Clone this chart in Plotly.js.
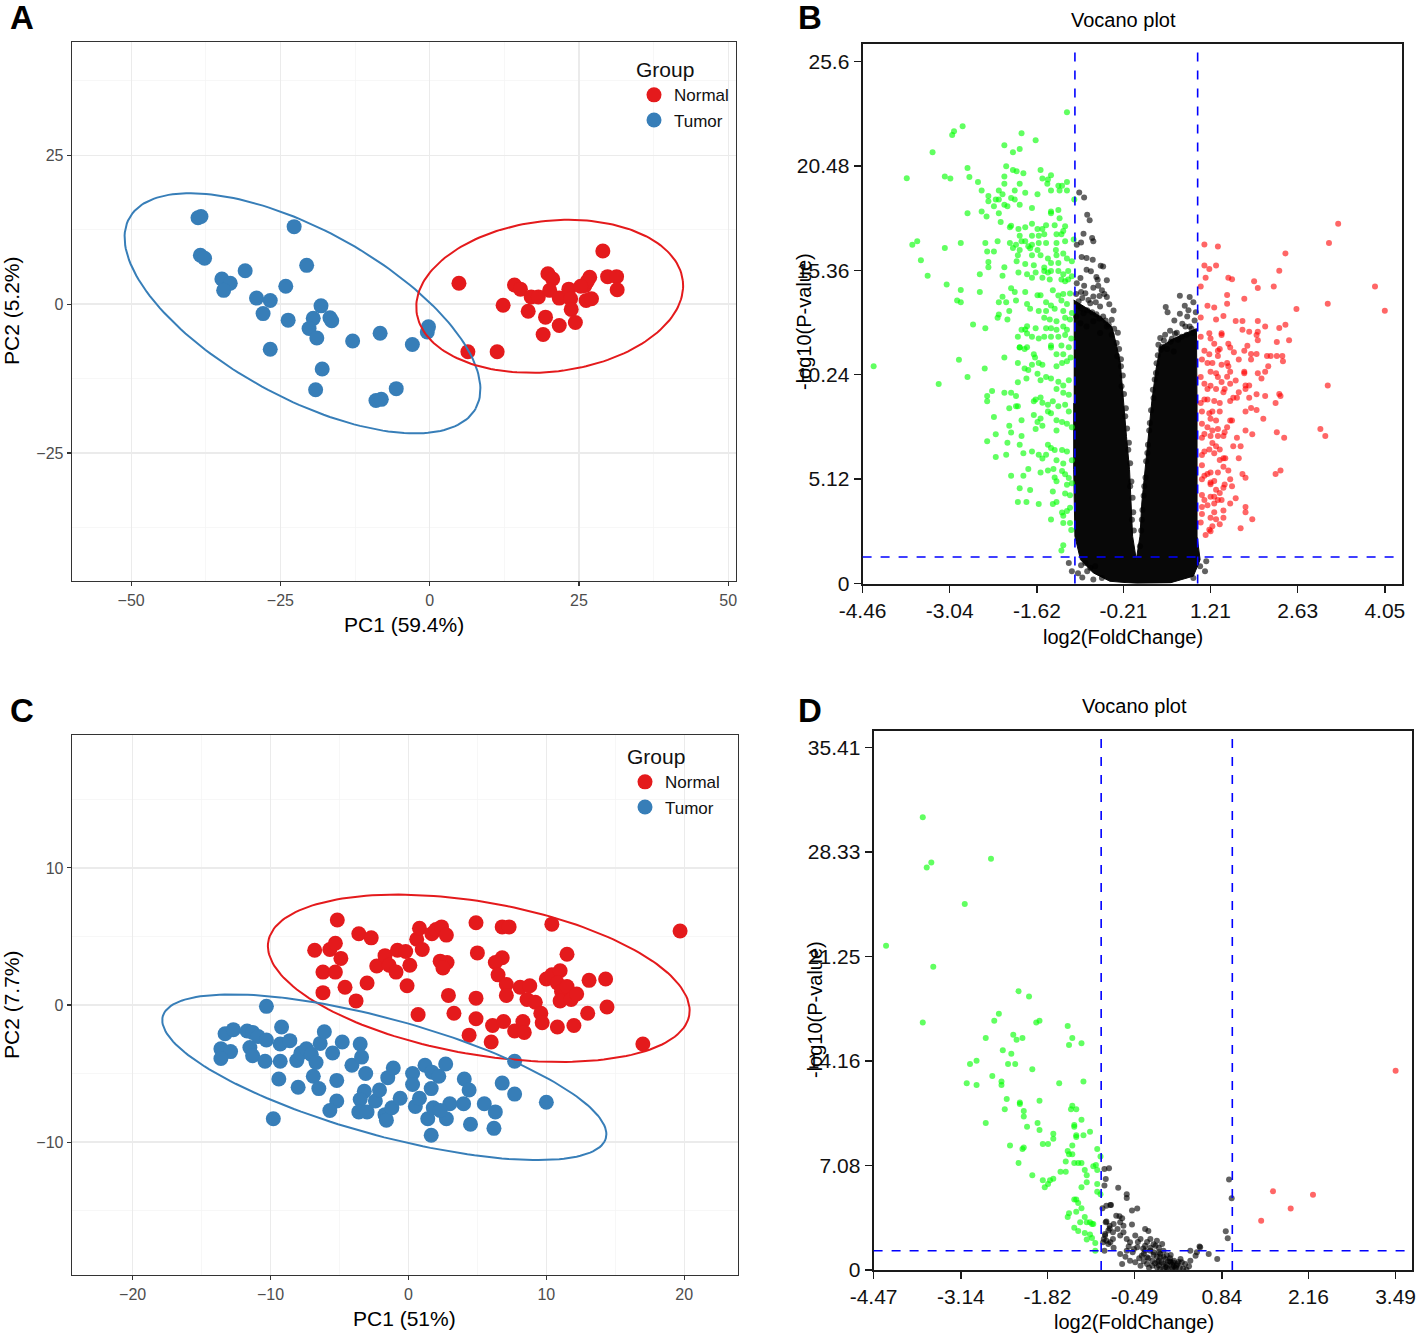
<!DOCTYPE html>
<html>
<head>
<meta charset="utf-8">
<script src="https://cdn.plot.ly/plotly-3.0.1.min.js"></script>
<style>html,body{margin:0;padding:0;background:#fff;}#chart{width:1418px;height:1338px;}</style>
</head>
<body>
<div id="chart"></div>
<script>
// ---------- Panel A: PCA (PC1 59.4%, PC2 5.2%) ----------
const aNormal = [[4.9,3.5],[6.4,-8.0],[11.3,-8.0],[12.3,-0.2],[14.2,3.2],[15.2,2.5],[17.0,1.2],[18.2,1.2],[16.5,-1.2],[19.8,5.1],[20.6,4.2],[20.1,2.3],[19.4,-2.2],[19.0,-5.1],[21.7,-3.6],[21.7,1.0],[23.3,2.5],[23.6,0.9],[23.7,-0.9],[24.4,-3.1],[26.0,3.1],[26.8,4.5],[26.2,0.6],[27.1,0.9],[29.0,8.9],[29.8,4.6],[31.3,4.6],[31.4,2.4],[26.4,3.8],[25.3,3.0]];
const aTumor = [[-38.8,14.5],[-38.3,14.7],[-38.4,8.2],[-37.7,7.7],[-34.8,4.2],[-33.4,3.5],[-34.5,2.3],[-30.9,5.6],[-29.0,1.0],[-26.7,0.6],[-27.9,-1.6],[-24.1,3.0],[-23.7,-2.7],[-26.7,-7.6],[-22.7,13.0],[-20.6,6.5],[-18.2,-0.3],[-19.5,-2.4],[-20.2,-4.1],[-18.9,-5.7],[-16.7,-2.3],[-16.4,-2.8],[-18.0,-10.9],[-19.1,-14.4],[-12.9,-6.2],[-8.3,-4.9],[-2.9,-6.8],[-0.2,-3.8],[-0.4,-4.7],[-5.6,-14.2],[-9.0,-16.2],[-8.1,-16.0]];
const aEllNormal = {cx:20.1, cy:1.3, a:22.45, b:12.66, angle:6.7};
const aEllTumor = {cx:-21.3, cy:-1.55, a:33.12, b:14.06, angle:-28.83};
const aXTicks = [-50,-25,0,25,50];
const aYTicks = [-25,0,25];

// ---------- Panel C: PCA (PC1 51%, PC2 7.7%) ----------
const cNormal = [[-5.16,6.2],[-3.6,5.2],[-2.7,4.9],[-6.8,4.0],[-5.7,4.05],[-5.3,4.5],[-4.9,3.4],[-6.2,2.4],[-5.3,2.4],[-4.6,1.3],[-6.2,0.9],[-3.8,0.3],[-3.0,1.6],[-2.3,2.85],[-1.7,3.6],[-1.4,2.9],[-0.9,2.4],[-0.8,4.0],[-0.2,3.9],[0.1,2.9],[-0.1,1.4],[0.6,4.8],[0.8,5.6],[1.0,4.05],[1.7,5.2],[2.0,5.5],[2.4,5.7],[2.75,5.1],[2.3,3.2],[2.8,3.1],[2.5,2.7],[2.9,0.7],[3.3,-0.6],[0.7,-0.7],[4.9,6.0],[5.0,3.8],[4.9,0.5],[4.9,-1.0],[4.4,-2.2],[6.0,-2.7],[6.1,-1.5],[6.8,5.7],[7.3,5.7],[6.8,3.45],[6.3,3.1],[6.5,2.2],[7.1,1.5],[7.1,0.7],[6.9,-1.2],[7.7,-1.9],[8.3,-1.2],[8.4,-2.0],[8.1,1.3],[8.8,1.4],[8.6,0.4],[9.2,0.2],[9.6,-0.6],[9.7,-1.3],[10.0,1.9],[10.4,5.9],[10.8,-1.6],[10.4,2.2],[11.0,2.5],[10.8,1.6],[11.1,1.0],[11.0,0.3],[11.5,3.7],[11.5,1.35],[11.8,0.4],[12.2,0.8],[12.0,-1.5],[13.0,-0.6],[13.1,1.8],[14.3,1.9],[14.4,-0.15],[17.0,-2.85],[19.7,5.4]];
const cTumor = [[-10.3,-0.1],[-13.3,-2.1],[-12.7,-1.8],[-13.6,-3.2],[-12.9,-3.4],[-13.6,-3.9],[-11.7,-1.9],[-11.3,-2.0],[-10.9,-2.3],[-10.3,-2.55],[-11.5,-3.1],[-11.3,-3.7],[-10.4,-4.1],[-9.2,-1.6],[-9.3,-2.85],[-8.6,-2.6],[-9.3,-4.1],[-9.4,-5.4],[-9.8,-8.3],[-8.0,-6.0],[-8.1,-4.05],[-7.8,-3.5],[-7.4,-3.2],[-7.05,-3.6],[-6.9,-5.2],[-6.7,-4.2],[-6.5,-6.1],[-6.4,-2.8],[-6.1,-1.95],[-5.5,-3.5],[-5.2,-5.5],[-5.2,-7.0],[-5.7,-7.7],[-4.8,-2.7],[-4.1,-4.4],[-3.5,-2.85],[-3.4,-3.8],[-3.1,-5.0],[-3.2,-6.3],[-3.5,-6.9],[-3.6,-7.8],[-3.0,-7.8],[-2.4,-7.0],[-2.1,-6.2],[-1.7,-8.0],[-1.6,-8.4],[-1.2,-7.5],[-1.5,-5.3],[-1.1,-4.6],[-0.6,-6.8],[0.3,-5.0],[0.3,-5.8],[0.5,-7.4],[0.8,-6.8],[1.2,-4.4],[1.4,-8.3],[1.65,-9.5],[1.65,-6.1],[1.8,-7.5],[1.7,-4.9],[2.2,-5.2],[2.7,-4.3],[2.75,-8.3],[3.0,-7.2],[2.3,-7.7],[4.0,-7.2],[4.05,-5.4],[4.4,-6.2],[4.5,-8.7],[5.5,-7.2],[6.2,-9.0],[6.3,-7.8],[6.8,-5.7],[7.7,-6.5],[7.7,-4.1],[10.0,-7.1]];
const cEllNormal = {cx:5.1, cy:1.95, a:15.5, b:5.56, angle:-10.05};
const cEllTumor = {cx:-1.75, cy:-5.27, a:16.67, b:4.24, angle:-15.5};
const cXTicks = [-20,-10,0,10,20];
const cYTicks = [-10,0,10];

// ---------- Panel B: volcano ----------
const bDown = [[-1.13,23.11],[-2.83,22.42],[-2.97,22.18],[-3.00,22.0],[-1.87,22.08],[-1.64,21.74],[-2.15,21.49],[-1.90,21.31],[-2.01,21.15],[-3.32,21.15],[-2.75,20.38],[-2.12,20.46],[-2.01,20.28],[-1.95,20.22],[-1.84,20.12],[-1.56,20.28],[-1.39,20.02],[-3.74,19.87],[-3.12,19.96],[-3.03,19.86],[-2.72,19.94],[-2.58,19.69],[-2.15,19.96],[-1.44,19.81],[-1.53,19.86],[-1.45,19.61],[-1.90,19.61],[-2.15,19.61],[-1.13,19.69],[-1.27,19.51],[-1.21,19.51],[-2.52,19.27],[-2.24,19.27],[-1.98,19.27],[-1.81,19.17],[-1.61,19.09],[-1.39,19.27],[-1.25,19.27],[-1.13,19.27],[-2.41,19.01],[-2.18,19.09],[-2.24,18.83],[-2.29,18.83],[-2.04,18.91],[-1.98,18.83],[-2.41,18.75],[-2.32,18.50],[-2.15,18.57],[-2.10,18.50],[-1.90,18.57],[-1.70,18.42],[-1.01,18.83],[-2.75,18.16],[-2.52,18.24],[-2.44,18.0],[-2.24,18.16],[-1.39,18.24],[-1.27,18.32],[-1.39,18.16],[-1.25,17.91],[-2.21,17.73],[-2.06,17.47],[-2.04,17.55],[-1.92,17.39],[-1.81,17.47],[-1.70,17.65],[-1.61,17.39],[-1.53,17.39],[-1.47,17.57],[-1.33,17.57],[-1.16,17.52],[-1.19,17.29],[-1.22,17.13],[-1.30,17.13],[-1.90,17.05],[-1.70,17.05],[-1.59,17.05],[-1.50,17.13],[-3.65,16.62],[-3.57,16.79],[-3.12,16.46],[-2.86,16.70],[-2.46,16.70],[-2.26,16.79],[-2.06,16.70],[-1.96,16.62],[-1.87,16.79],[-1.81,16.79],[-1.76,16.54],[-1.70,16.62],[-1.59,16.70],[-1.47,16.70],[-1.30,16.70],[-1.16,16.79],[-1.02,16.87],[-2.01,16.46],[-1.90,16.36],[-1.73,16.44],[-1.61,16.36],[-1.31,16.36],[-1.19,16.18],[-2.43,16.28],[-2.32,16.28],[-1.93,16.10],[-1.70,16.10],[-1.56,16.10],[-1.44,15.94],[-1.30,16.10],[-1.13,15.94],[-1.05,15.81],[-3.51,15.85],[-2.41,15.77],[-1.95,15.81],[-1.81,15.67],[-1.67,15.61],[-1.50,15.50],[-1.39,15.72],[-1.27,15.72],[-2.41,15.51],[-2.15,15.51],[-1.92,15.25],[-1.78,15.17],[-1.64,15.25],[-1.50,15.33],[-1.44,15.25],[-1.39,15.33],[-1.27,15.33],[-1.19,15.17],[-1.11,15.33],[-1.05,15.07],[-3.40,15.09],[-2.55,15.17],[-2.18,15.09],[-1.70,15.0],[-1.53,15.0],[-1.41,14.91],[-1.22,14.91],[-1.11,14.91],[-1.16,14.82],[-3.09,14.66],[-2.04,14.48],[-1.98,14.30],[-1.81,14.30],[-1.61,14.14],[-1.56,14.14],[-1.36,14.38],[-1.27,14.12],[-1.19,14.20],[-1.08,14.22],[-2.86,14.40],[-2.55,14.30],[-2.18,14.06],[-2.12,13.80],[-1.96,13.88],[-1.78,13.71],[-2.24,13.80],[-1.47,13.80],[-1.39,13.63],[-1.22,13.88],[-1.13,13.71],[-2.92,13.88],[-2.86,13.80],[-1.73,13.47],[-1.59,13.37],[-1.47,13.37],[-1.33,13.47],[-1.19,13.37],[-1.05,13.27],[-2.07,13.37],[-2.24,13.19],[-2.26,13.03],[-2.10,12.95],[-1.50,13.03],[-1.41,12.95],[-1.30,12.86],[-1.16,13.03],[-1.08,12.95],[-2.66,12.70],[-2.46,12.52],[-1.87,12.44],[-1.78,12.62],[-1.81,12.46],[-1.64,12.52],[-1.47,12.52],[-1.39,12.52],[-1.30,12.44],[-1.19,12.60],[-1.13,12.44],[-1.93,12.10],[-1.78,12.26],[-1.70,12.10],[-1.59,12.01],[-1.50,12.10],[-1.39,12.10],[-1.27,12.10],[-1.16,12.19],[-1.06,12.01],[-1.90,11.59],[-1.78,11.59],[-1.39,11.67],[-1.22,11.67],[-1.10,11.59],
[-4.28,10.65],[-2.89,10.98],[-2.15,11.08],[-2.47,10.55],[-2.75,10.13],[-3.22,9.79],[-1.93,9.87],[-1.79,10.05],[-1.70,10.73],[-1.93,10.82],[-1.82,10.55],[-1.76,10.47],[-1.67,11.24],[-1.65,11.08],[-1.90,11.58],[-1.82,11.50],[-1.59,10.82],[-1.53,10.73],[-1.61,10.29],[-1.56,9.97],[-1.47,10.13],[-1.39,10.05],[-1.30,10.65],[-1.21,10.82],[-1.13,10.90],[-1.07,11.08],[-1.19,11.24],[-1.30,11.24],[-1.39,11.58],[-1.27,9.89],[-1.19,9.71],[-1.10,9.97],[-1.30,9.54],[-1.19,9.36],[-1.10,9.26],[-2.35,9.44],[-2.43,9.20],[-2.43,8.94],[-2.15,9.36],[-2.04,9.36],[-1.96,9.20],[-2.07,8.59],[-1.96,8.69],[-1.93,8.69],[-1.67,8.94],[-1.64,9.02],[-1.56,9.12],[-1.53,8.86],[-1.44,8.77],[-1.36,8.94],[-1.27,8.69],[-1.16,8.77],[-1.10,8.43],[-2.32,8.17],[-1.87,8.01],[-1.67,8.27],[-1.61,7.92],[-1.64,7.58],[-1.56,8.09],[-1.53,7.74],[-1.44,8.43],[-1.39,8.35],[-1.30,8.01],[-1.30,7.50],[-1.21,7.92],[-1.13,7.84],[-1.05,7.66],[-2.07,7.74],[-2.04,7.40],[-2.29,7.32],[-2.43,6.98],[-2.10,6.90],[-1.90,6.81],[-1.87,7.24],[-1.70,6.47],[-1.59,6.31],[-1.84,6.39],[-2.12,6.31],[-2.29,6.21],[-1.44,6.81],[-1.39,6.65],[-1.33,6.55],[-1.21,6.55],[-1.13,6.47],[-1.53,6.13],[-1.47,6.31],[-1.30,6.05],[-1.19,5.88],[-1.05,6.05],[-1.76,5.62],[-1.44,5.54],[-1.56,5.44],[-1.35,5.62],[-1.21,5.52],[-1.16,5.36],[-1.10,5.18],[-2.04,5.28],[-1.84,5.28],[-1.33,5.20],[-1.30,5.02],[-1.13,4.84],[-1.05,4.92],[-1.90,4.67],[-1.73,4.59],[-1.36,4.51],[-1.16,4.41],[-1.08,4.33],[-1.93,4.00],[-1.79,4.00],[-1.59,3.90],[-1.36,3.90],[-1.30,4.00],[-1.21,3.48],[-1.13,3.56],[-1.08,3.72],[-1.19,3.32],[-1.39,3.14],[-1.19,2.97],[-1.08,2.97],[-1.06,2.63],[-1.19,1.88],[-1.22,1.62]];
const bUp = [[3.29,17.64],[3.14,16.70],[2.43,16.19],[1.11,16.63],[1.33,16.53],[1.11,15.60],[1.19,15.42],[1.30,15.60],[2.33,15.34],[1.13,15.0],[1.50,15.0],[1.56,14.92],[1.92,14.83],[1.98,14.49],[2.24,14.57],[1.05,14.57],[3.89,14.57],[1.48,14.15],[1.76,13.97],[1.48,13.72],[1.16,13.62],[1.27,13.54],[2.61,13.46],[3.12,13.72],[4.05,13.38],[1.05,13.04],[1.30,12.95],[1.42,13.12],[1.62,12.87],[1.73,12.87],[1.98,12.87],[2.10,12.61],[2.33,12.53],[2.43,12.69],[1.73,12.45],[1.84,12.35],[1.96,12.19],[1.98,12.35],[1.98,11.93],[2.29,11.84],[2.49,11.93],[1.05,12.10],[1.19,12.27],[1.21,12.01],[1.39,12.27],[1.39,12.19],[1.27,11.76],[1.50,11.76],[1.53,11.58],[1.81,11.66],[1.11,11.42],[1.33,11.42],[1.36,11.50],[1.59,11.34],[1.76,11.42],[1.87,11.25],[1.96,11.25],[2.13,11.16],[2.19,11.16],[2.29,11.16],[2.38,11.16],[2.39,10.90],[2.15,10.65],[2.10,10.39],[1.98,10.31],[2.04,10.05],[1.07,10.99],[1.19,11.24],[1.16,10.81],[1.24,10.81],[1.33,11.16],[1.39,10.73],[1.48,10.81],[1.67,10.99],[1.87,10.99],[1.50,10.65],[1.53,10.39],[1.76,10.39],[1.76,10.31],[1.21,10.39],[1.30,10.31],[1.33,10.13],[1.48,10.14],[1.62,9.96],[1.53,9.80],[1.39,9.88],[1.05,10.13],[1.11,9.80],[1.16,9.54],[1.21,9.70],[1.30,9.54],[1.42,9.38],[1.44,9.54],[1.67,9.38],[1.78,9.71],[1.84,9.71],[1.78,9.54],[3.12,9.71],[2.33,9.29],[2.10,9.20],[1.96,9.28],[1.84,9.11],[1.64,9.11],[1.58,9.11],[1.53,8.95],[1.36,8.85],[1.27,8.95],[1.16,9.03],[1.11,9.03],[1.05,8.85],[2.27,8.85],[2.35,9.20],[1.87,8.61],[1.78,8.43],[1.96,8.51],[2.07,8.08],[1.07,8.43],[1.19,8.35],[1.24,8.43],[1.36,8.43],[1.53,8.00],[1.56,8.00],[1.21,8.08],[1.30,8.00],[1.07,7.84],[1.16,7.66],[1.24,7.50],[1.33,7.58],[1.48,7.66],[1.44,7.42],[1.42,7.24],[1.33,7.24],[1.21,7.24],[1.11,7.33],[1.07,7.15],[1.78,7.50],[1.89,7.32],[2.29,7.42],[2.41,7.15],[3.00,7.58],[3.08,7.24],[1.64,7.15],[1.58,6.73],[1.70,6.73],[1.24,6.89],[1.30,6.73],[1.19,6.57],[1.27,6.39],[1.36,6.57],[1.11,6.47],[1.07,6.30],[1.36,6.06],[1.42,6.14],[1.45,6.14],[1.67,6.14],[1.07,5.80],[1.50,5.54],[1.42,5.72],[1.33,5.45],[1.21,5.45],[1.16,5.37],[1.11,5.29],[1.07,5.11],[1.27,5.03],[1.21,4.95],[1.21,4.87],[1.53,5.11],[1.73,5.37],[1.78,5.19],[2.27,5.37],[2.35,5.54],[1.56,4.77],[1.44,4.85],[1.42,4.69],[1.36,4.44],[1.30,4.60],[1.27,4.26],[1.21,4.26],[1.07,4.34],[1.11,4.10],[1.33,4.10],[1.39,4.10],[1.27,3.92],[1.16,3.84],[1.07,3.75],[1.53,3.92],[1.62,4.18],[1.27,3.49],[1.42,3.58],[1.78,3.75],[1.78,3.49],[1.07,3.41],[1.21,3.23],[1.30,3.15],[1.42,3.23],[1.89,3.15],[1.05,2.99],[1.36,2.91],[1.24,2.81],[1.70,2.71],[1.19,2.64],[1.21,2.56],[1.13,2.38]];
const bNs = [[-0.93,19.18],[-0.85,18.93],[-0.80,18.08],[-0.76,17.81],[-0.86,17.15],[-0.72,16.94],[-0.70,16.78],[-0.90,16.73],[-0.97,16.61],[-0.89,16.01],[-0.81,15.96],[-0.71,15.88],[-0.58,15.58],[-0.54,15.55],[-0.81,15.39],[-0.74,15.31],[-0.65,15.03],[-0.91,14.98],[-0.97,14.73],[-0.48,14.87],[-0.62,14.60],[-0.56,14.38],[-0.83,14.24],[-0.70,14.08],[-0.48,14.05],[-0.94,13.84],[-0.75,13.75],[-0.59,13.59],[-0.37,13.39],[-0.86,13.26],[-0.54,13.10],[-0.40,12.94],[-0.70,12.86],[-0.91,12.77],[-0.48,12.61],[-0.81,12.61],[-0.59,12.28],[-0.40,12.20],[-0.32,11.79],[-0.31,11.14],[-0.25,10.65],[-0.24,9.67],[-0.18,8.20],[-0.13,6.56],[-0.10,4.77],[-0.07,3.13],[0.71,14.11],[0.87,14.05],[0.48,13.56],[0.51,13.30],[0.79,13.62],[0.71,13.23],[0.83,13.10],[0.75,12.74],[0.87,12.61],[0.63,12.25],[0.39,12.04],[0.36,11.71],[0.45,11.92],[0.56,11.86],[0.61,11.38],[0.40,11.47],[0.92,12.28],[0.82,12.20],[0.68,11.96],[0.32,10.32],[0.28,9.10],[0.22,7.87],[0.18,6.40],[0.13,4.77],[0.09,3.13],[0.06,1.83],[-0.75,0.77],[-0.83,1.01],[-0.56,0.27],[-0.67,0.85],[1.04,0.85],[1.14,1.09],[1.12,0.60],[0.93,0.27],
[-0.95,13.6],[-0.9,13.5],[-0.8,13.4],[-0.72,13.3],[-0.65,13.2],[-0.6,13.0],[-0.5,12.9],[-0.45,12.7],[-0.36,12.5],[-0.3,12.3],[-0.28,11.5],[-0.25,11.0],[-0.22,10.2],[-0.2,9.3],[-0.17,8.6],[-0.15,7.6],[-0.12,6.9],[-0.1,5.9],[-0.08,5.0],[-0.06,4.2],[-0.05,3.5],[-0.04,2.6],[-0.98,13.1],[-0.66,13.8],[-0.44,13.7],[-0.85,14.6],[-0.63,14.9],[-0.52,14.2],[-0.9,14.3],[-0.78,13.9],[-0.98,14.2],[-0.88,14.0],[-0.7,14.5],[-0.6,14.1],
[0.35,11.2],[0.42,11.6],[0.5,11.5],[0.58,12.0],[0.66,12.3],[0.74,12.1],[0.9,12.5],[0.95,12.9],[0.8,12.6],[0.55,12.4],[0.47,12.2],[0.33,10.8],[0.3,10.0],[0.27,9.5],[0.24,8.5],[0.21,7.5],[0.19,6.8],[0.16,6.0],[0.15,5.2],[0.12,4.3],[0.1,3.6],[0.08,2.6],[0.97,13.3],[0.93,13.8],[0.85,13.4],[0.62,12.9],
[-0.95,0.5],[-0.88,0.3],[-0.8,0.6],[-0.7,0.2],[-0.9,0.9],[-1.05,0.6],[-1.1,1.0]];
// outline of the saturated (solid black) core of non-significant genes
const bCoreX = [-1.02,-0.81,-0.59,-0.40,-0.33,-0.26,-0.21,-0.16,-0.11,-0.09,-0.06,0.00,0.06,0.09,0.14,0.20,0.25,0.32,0.39,0.60,0.82,0.98,0.99,0.99,0.99,1.04,0.93,0.55,0.01,-0.43,-0.70,-0.91,-1.00,-1.02,-1.02];
const bCoreY = [13.9,13.5,13.1,12.6,11.79,10.81,8.85,7.22,5.58,3.95,2.32,1.17,2.32,3.95,5.58,7.22,8.85,10.49,11.6,12.0,12.3,12.5,8.85,5.58,2.32,1.17,0.36,0.03,0.0,0.11,0.52,1.17,2.32,5.58,8.85];
const bXTicks = [-4.46,-3.04,-1.62,-0.21,1.21,2.63,4.05];
const bYTicks = [0,5.12,10.24,15.36,20.48,25.6];
const bFcCut = 1, bPCut = 1.3;

// ---------- Panel D: volcano ----------
const dDown = [[-3.72,30.69],[-3.66,27.28],[-3.59,27.62],[-2.68,27.87],[-3.08,24.80],[-4.28,21.98],[-3.56,20.55],[-3.72,16.78],[-2.26,18.90],[-2.10,18.54],[-2.56,17.37],[-2.63,16.89],[-1.99,16.78],[-1.94,16.89],[-1.51,16.53],[-2.76,15.72],[-2.34,15.95],[-2.29,15.61],[-2.20,15.72],[-1.44,15.72],[-1.49,15.25],[-1.30,15.36],[-2.50,14.89],[-2.37,14.66],[-3.00,13.96],[-2.90,14.19],[-2.42,13.96],[-2.31,13.96],[-2.05,13.60],[-2.66,13.15],[-2.52,12.78],[-2.52,12.54],[-3.05,12.65],[-2.90,12.54],[-1.64,12.65],[-1.27,12.78],[-2.44,11.59],[-2.24,11.36],[-2.24,11.25],[-1.94,11.47],[-1.44,11.14],[-1.46,10.89],[-1.38,10.89],[-2.47,10.89],[-2.18,10.77],[-2.18,10.41],[-1.30,10.19],[-2.76,9.96],[-1.97,9.96],[-2.13,9.71],[-1.41,9.83],[-1.41,9.71],[-1.94,9.49],[-1.73,9.24],[-1.38,9.13],[-1.38,9.01],[-1.27,9.13],[-1.17,9.37],[-1.73,8.90],[-1.89,8.54],[-1.81,8.54],[-2.39,8.43],[-2.18,8.31],[-2.20,8.20],[-1.44,8.43],[-1.51,8.06],[-1.49,7.84],[-1.44,7.84],[-2.26,7.25],[-1.54,7.36],[-1.41,7.25],[-1.35,7.25],[-1.30,7.25],[-1.25,6.78],[-1.62,6.66],[-1.54,6.66],[-1.22,6.42],[-1.06,8.20],[-1.01,7.70],[-1.12,7.03],[-1.08,7.12],[-1.06,6.78],[-2.05,6.42],[-1.89,6.08],[-1.78,6.08],[-1.73,6.19],[-1.86,5.60],[-1.81,5.83],[-1.30,5.60],[-1.22,5.94],[-1.06,5.83],[-1.06,5.31],[-1.01,5.13],[-1.41,4.77],[-1.38,4.77],[-1.35,4.54],[-1.30,4.18],[-1.49,3.84],[-1.51,3.59],[-1.38,3.95],[-1.25,3.59],[-1.22,3.23],[-1.17,3.23],[-1.14,3.12],[-1.12,3.12],[-1.32,3.23],[-1.41,2.87],[-1.35,2.64],[-1.25,2.51],[-1.17,2.40],[-1.22,2.06],[-1.14,2.17],[-1.09,1.83],[-1.09,1.31]];
const dUp = [[1.62,5.33],[1.89,4.16],[2.23,5.10],[1.44,3.34],[3.49,13.51]];
const dNs = [[-0.95,6.84],[-0.88,6.89],[-0.93,6.17],[-0.95,5.72],[-0.98,4.18],[-0.92,4.36],[-0.86,4.41],[-0.93,3.23],[-0.87,3.00],[-0.89,2.67],[-0.82,2.55],[-0.94,2.33],[-0.92,1.99],[-0.97,1.88],[-0.86,1.88],[-0.95,1.31],[-0.74,5.58],[-0.61,5.13],[-0.61,4.88],[-0.53,4.04],[-0.45,4.16],[-0.85,4.40],[-0.77,3.68],[-0.72,3.64],[-0.68,3.50],[-0.71,3.23],[-0.81,3.12],[-0.87,2.82],[-0.92,3.28],[-0.53,3.09],[-0.66,3.00],[-0.75,2.78],[-0.94,2.44],[-0.96,2.10],[-0.82,2.10],[-0.89,1.76],[-0.71,2.33],[-0.66,2.55],[-0.61,2.10],[-0.56,1.88],[-0.48,2.33],[-0.40,2.10],[-0.33,2.78],[-0.28,2.64],[-0.25,2.10],[-0.15,1.99],[-0.07,1.76],[-0.17,1.65],[-0.33,1.65],[-0.45,1.54],[-0.50,1.42],[-0.61,1.31],[-0.71,1.08],[-0.81,1.51],[-0.68,0.41],[-0.56,0.63],[-0.48,0.52],[-0.38,0.97],[-0.30,0.86],[-0.22,0.63],[-0.12,0.63],[-0.02,0.75],[0.06,0.52],[0.16,0.41],[0.00,0.18],[-0.10,0.07],[0.03,0.05],[0.11,0.25],[0.23,0.52],[0.30,0.02],[0.34,0.25],[0.36,0.63],[0.44,0.97],[0.51,1.54],[0.50,1.60],[0.64,1.08],[0.77,0.75],[0.36,1.31],[0.46,1.20],[0.90,2.62],[0.93,2.15],[0.95,6.14],[0.99,4.86],[-0.12,1.20],[-0.05,1.31],[0.06,1.02],[-0.25,1.31],[-0.20,1.02],[-0.10,0.86],[-0.40,0.29],[-0.30,0.41],[-0.22,0.29],[-0.15,0.18],[-0.05,0.41],[0.11,0.63],[0.21,0.75],[-0.33,1.31],[-0.25,1.5],[-0.2,1.2],[-0.15,0.9],[-0.1,1.1],[-0.05,0.9],[0,1.0],[0.05,0.8],[0.1,0.5],[-0.08,0.5],[-0.18,0.45],[0.0,0.35],[0.08,0.15],[-0.02,0.2],[0.15,0.3],[-0.12,0.3],[0.05,0.6],[-0.28,0.8],[-0.35,1.1],[-0.42,0.8],[0.2,0.15],[0.25,0.1],[-0.05,0.05],[0.12,0.05],[-0.58,1.6],[-0.63,0.9],[-0.52,1.2],[-0.44,1.9],[-0.36,1.45],[-0.30,1.9],[-0.2,1.75],[-0.12,1.5],[-0.27,0.15],[-0.14,0.55],[0.02,0.6],[0.08,0.35],[0.18,0.55],[0.28,0.4],[0.14,0.15],[-0.35,0.6]];
const dXTicks = [-4.47,-3.14,-1.82,-0.49,0.84,2.16,3.49];
const dYTicks = [0,7.08,14.16,21.25,28.33,35.41];
const dFcCut = 1, dPCut = 1.3;

// ---------- helpers ----------
const FONT = 'Liberation Sans, Arial, Helvetica, sans-serif';
const RED = '#E41A1C', BLUE = '#377EB8';
const xs = p => p.map(d => d[0]);
const ys = p => p.map(d => d[1]);
function ellipse(e) {
  const t = e.angle * Math.PI / 180, X = [], Y = [];
  for (let i = 0; i <= 180; i++) {
    const u = 2 * Math.PI * i / 180;
    X.push(e.cx + e.a * Math.cos(t) * Math.cos(u) - e.b * Math.sin(t) * Math.sin(u));
    Y.push(e.cy + e.a * Math.sin(t) * Math.cos(u) + e.b * Math.cos(t) * Math.sin(u));
  }
  return {X, Y};
}
function pcaPts(pts, color, name, xa, ya, leg, show) {
  return {type:'scatter', mode:'markers', x:xs(pts), y:ys(pts), xaxis:xa, yaxis:ya, name:name,
    legend:leg, showlegend:show, marker:{color:color, size:15, line:{width:0}}, hoverinfo:'x+y'};
}
function ellTrace(e, color, xa, ya) {
  const p = ellipse(e);
  return {type:'scatter', mode:'lines', x:p.X, y:p.Y, xaxis:xa, yaxis:ya, showlegend:false,
    line:{color:color, width:2}, hoverinfo:'skip'};
}
function volPts(pts, color, xa, ya) {
  return {type:'scatter', mode:'markers', x:xs(pts), y:ys(pts), xaxis:xa, yaxis:ya, showlegend:false,
    marker:{color:color, size:6, line:{width:0}}, hoverinfo:'x+y'};
}

const traces = [
  // A
  pcaPts(aNormal, RED, 'Normal', 'x', 'y', 'legend', true),
  pcaPts(aTumor, BLUE, 'Tumor', 'x', 'y', 'legend', true),
  ellTrace(aEllTumor, BLUE, 'x', 'y'),
  ellTrace(aEllNormal, RED, 'x', 'y'),
  // B
  {type:'scatter', mode:'lines', x:bCoreX, y:bCoreY, xaxis:'x2', yaxis:'y2', fill:'toself', fillcolor:'#080808',
   line:{color:'#080808', width:1}, showlegend:false, hoverinfo:'skip'},
  volPts(bNs, 'rgba(0,0,0,0.62)', 'x2', 'y2'),
  volPts(bDown, 'rgba(0,255,0,0.62)', 'x2', 'y2'),
  volPts(bUp, 'rgba(255,0,0,0.6)', 'x2', 'y2'),
  // C
  pcaPts(cNormal, RED, 'Normal', 'x3', 'y3', 'legend2', true),
  pcaPts(cTumor, BLUE, 'Tumor', 'x3', 'y3', 'legend2', true),
  ellTrace(cEllNormal, RED, 'x3', 'y3'),
  ellTrace(cEllTumor, BLUE, 'x3', 'y3'),
  // D
  volPts(dNs, 'rgba(0,0,0,0.62)', 'x4', 'y4'),
  volPts(dDown, 'rgba(0,255,0,0.62)', 'x4', 'y4'),
  volPts(dUp, 'rgba(255,0,0,0.6)', 'x4', 'y4')
];

const W = 1418, H = 1338;
const px = v => v / W, py = v => 1 - v / H;

function pcaAxis(dom, range, ticks, minor0, minorStep, anchor) {
  return {domain:dom, range:range, anchor:anchor, tickmode:'array', tickvals:ticks, showline:true, mirror:true,
    linecolor:'#333333', linewidth:1.3, ticks:'outside', ticklen:4, tickwidth:1.1, tickcolor:'#333333',
    tickfont:{family:FONT, size:16, color:'#4d4d4d'}, showgrid:true, gridcolor:'#ebebeb', gridwidth:1.2,
    zeroline:false, minor:{tickmode:'linear', tick0:minor0, dtick:minorStep, showgrid:true, gridcolor:'#f3f3f3', gridwidth:0.7, ticks:''}};
}
function volAxis(dom, range, ticks, anchor) {
  return {domain:dom, range:range, anchor:anchor, tickmode:'array', tickvals:ticks, ticktext:ticks.map(String),
    showline:true, mirror:true, linecolor:'#1a1a1a', linewidth:2, ticks:'outside', ticklen:7, tickwidth:1.5,
    tickcolor:'#1a1a1a', tickfont:{family:FONT, size:21, color:'#111'}, showgrid:false, zeroline:false};
}

const dash = {color:'#0000ff', width:1.6, dash:'dash'};
const shapes = [
  {type:'line', xref:'x2', yref:'y2 domain', x0:-bFcCut, x1:-bFcCut, y0:0, y1:1, line:dash},
  {type:'line', xref:'x2', yref:'y2 domain', x0:bFcCut, x1:bFcCut, y0:0, y1:1, line:dash},
  {type:'line', xref:'x2 domain', yref:'y2', x0:0, x1:1, y0:bPCut, y1:bPCut, line:dash},
  {type:'line', xref:'x4', yref:'y4 domain', x0:-dFcCut, x1:-dFcCut, y0:0, y1:1, line:dash},
  {type:'line', xref:'x4', yref:'y4 domain', x0:dFcCut, x1:dFcCut, y0:0, y1:1, line:dash},
  {type:'line', xref:'x4 domain', yref:'y4', x0:0, x1:1, y0:dPCut, y1:dPCut, line:dash}
];

function ann(text, x, y, size, opts) {
  return Object.assign({text:text, x:x, y:y, xref:'paper', yref:'paper', showarrow:false,
    xanchor:'center', yanchor:'middle', font:{family:FONT, size:size, color:'#000'}}, opts || {});
}
const annotations = [
  ann('<b>A</b>', px(22), py(17), 33),
  ann('<b>B</b>', px(810), py(17), 33),
  ann('<b>C</b>', px(22), py(710), 33),
  ann('<b>D</b>', px(810), py(710), 33),
  ann('PC1 (59.4%)', px(404), py(624), 21),
  ann('PC2 (5.2%)', px(12), py(311), 21, {textangle:-90}),
  ann('PC1 (51%)', px(404), py(1318), 21),
  ann('PC2 (7.7%)', px(12), py(1005), 21, {textangle:-90}),
  ann('Vocano plot', px(1123), py(20), 20),
  ann('log2(FoldChange)', px(1123), py(637), 20),
  ann('-log10(P-value)', px(804), py(322), 20, {textangle:-90}),
  ann('Vocano plot', px(1134), py(706), 20),
  ann('log2(FoldChange)', px(1134), py(1322), 20),
  ann('-log10(P-value)', px(815), py(1010), 20, {textangle:-90})
];

const legendBase = {xanchor:'left', yanchor:'top', bgcolor:'rgba(255,255,255,0)', borderwidth:0,
  font:{family:FONT, size:17, color:'#111'}, tracegroupgap:0, itemwidth:30};

const layout = {
  width:W, height:H, margin:{l:0, r:0, t:0, b:0}, paper_bgcolor:'#fff', plot_bgcolor:'#fff',
  font:{family:FONT},
  xaxis: pcaAxis([px(72), px(736)], [-59.9, 51.3], aXTicks, 12.5, 25, 'y'),
  yaxis: pcaAxis([py(581), py(42)], [-46.5, 44.0], aYTicks, 12.5, 25, 'x'),
  xaxis2: volAxis([px(862.6), px(1402)], [-4.46, 4.33], bXTicks, 'y2'),
  yaxis2: volAxis([py(583.5), py(44)], [0, 26.46], bYTicks, 'x2'),
  xaxis3: pcaAxis([px(72), px(738)], [-24.4, 23.9], cXTicks, 5, 10, 'y3'),
  yaxis3: pcaAxis([py(1275), py(735)], [-19.7, 19.7], cYTicks, 5, 10, 'x3'),
  xaxis4: volAxis([px(873.6), px(1412)], [-4.47, 3.74], dXTicks, 'y4'),
  yaxis4: volAxis([py(1270), py(731)], [0, 36.53], dYTicks, 'x4'),
  legend: Object.assign({}, legendBase, {x:px(634), y:py(50), title:{text:'Group', font:{family:FONT, size:21, color:'#111'}}}),
  legend2: Object.assign({}, legendBase, {x:px(625), y:py(737), title:{text:'Group', font:{family:FONT, size:21, color:'#111'}}}),
  shapes: shapes,
  annotations: annotations
};

Plotly.newPlot('chart', traces, layout, {displayModeBar:false, staticPlot:true});
</script>
</body>
</html>
